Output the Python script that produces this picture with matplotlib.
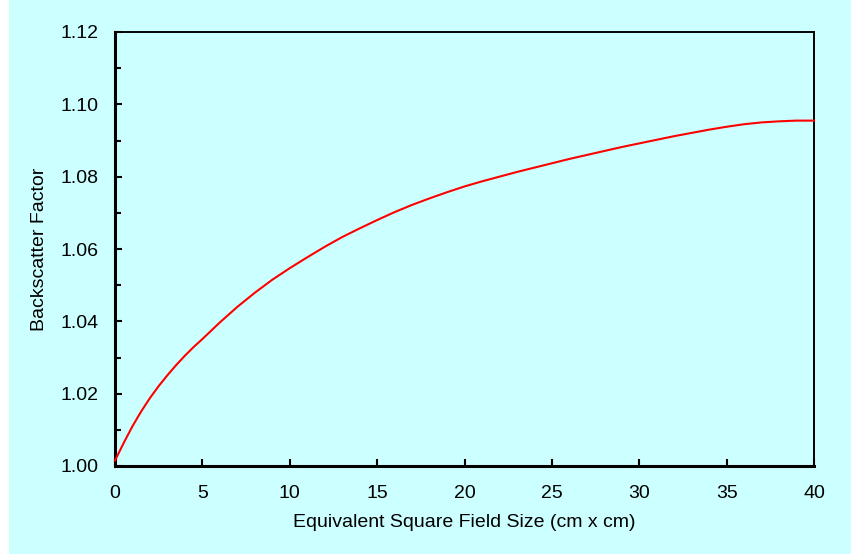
import matplotlib
matplotlib.use("Agg")
import matplotlib.pyplot as plt
from matplotlib.patches import Rectangle
from matplotlib.ticker import MultipleLocator, FormatStrFormatter

# Field size (cm) and backscatter factor
field_size = [0, 0.5, 1, 1.5, 2, 2.5, 3, 3.5, 4, 4.5, 5, 6, 7, 8, 9, 10,
              11, 12, 13, 14, 15, 16, 17, 18, 19, 20, 21, 22, 23, 24, 25,
              26, 27, 28, 29, 30, 31, 32, 33, 34, 35, 36, 37, 38, 39, 40]
bsf = [1.0015, 1.0064, 1.0110, 1.0151, 1.0188, 1.0221, 1.0251, 1.0279,
       1.0305, 1.0329, 1.0351, 1.0397, 1.0440, 1.0479, 1.0515, 1.0547,
       1.0577, 1.0606, 1.0633, 1.0657, 1.0680, 1.0702, 1.0722, 1.0740,
       1.0757, 1.0773, 1.0787, 1.0800, 1.0813, 1.0825, 1.0837, 1.0849,
       1.0860, 1.0871, 1.0882, 1.0892, 1.0902, 1.0912, 1.0921, 1.0930,
       1.0938, 1.0945, 1.0950, 1.0953, 1.0955, 1.0955]

x_label = "Equivalent Square Field Size (cm x cm)"
y_label = "Backscatter Factor"

bg = "#CCFFFF"
plt.rcParams['font.family'] = ['Liberation Sans', 'DejaVu Sans']

fig = plt.figure(figsize=(8.51, 5.54), dpi=100, facecolor=bg)
# white strip on the left edge
fig.patches.append(Rectangle((0, 0), 9 / 851, 1, transform=fig.transFigure,
                             facecolor="white", edgecolor="none", zorder=-1))

ax = fig.add_axes([115 / 851, 1 - 466 / 554, (814 - 115) / 851, (466 - 32) / 554])
ax.set_facecolor(bg)

ax.plot(field_size, bsf, color="red", linewidth=1.5, clip_on=False, zorder=3,
        solid_joinstyle="round")

ax.set_xlim(0, 40)
ax.set_ylim(1.00, 1.12)
ax.xaxis.set_major_locator(MultipleLocator(5))
ax.yaxis.set_major_locator(MultipleLocator(0.02))
ax.yaxis.set_minor_locator(MultipleLocator(0.01))
ax.yaxis.set_major_formatter(FormatStrFormatter("%.2f"))

ax.tick_params(axis="both", which="major", direction="in", length=5,
               width=1.5, labelsize=14, colors="black")
ax.tick_params(axis="y", which="minor", direction="in", length=4, width=1.5)
ax.tick_params(axis="y", which="major", pad=12)
ax.tick_params(axis="x", which="major", pad=14)

ax.spines["left"].set_linewidth(2.2)
ax.spines["bottom"].set_linewidth(2.2)
ax.spines["top"].set_linewidth(1.4)
ax.spines["right"].set_linewidth(1.4)

ax.set_xlabel(x_label, fontsize=14, labelpad=8)
ax.set_ylabel(y_label, fontsize=14, labelpad=9)

fig.savefig("out.png", dpi=100, facecolor=bg)
